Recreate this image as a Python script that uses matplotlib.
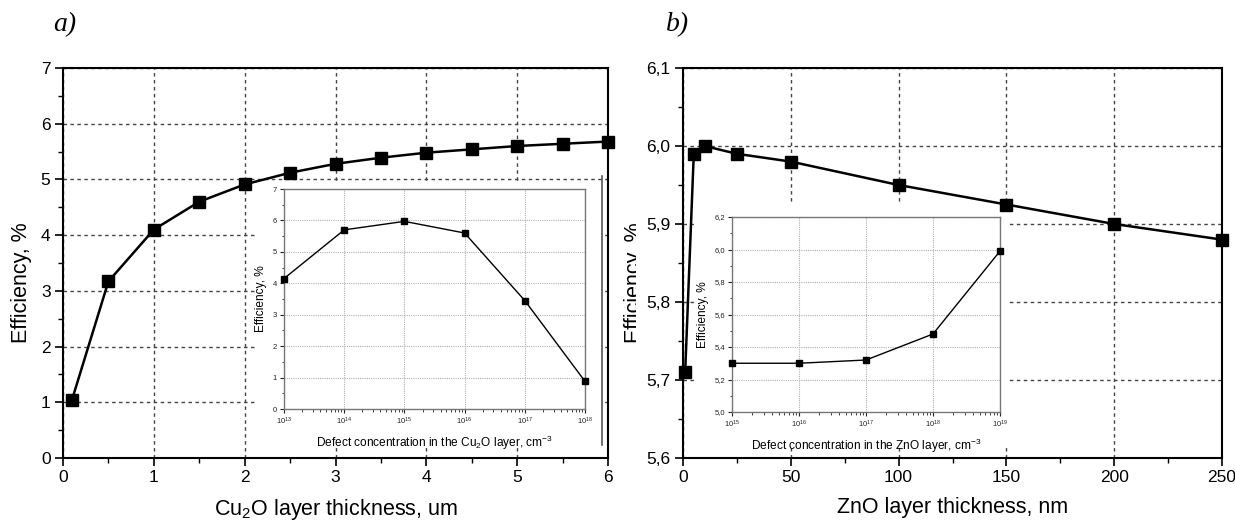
import matplotlib
matplotlib.use("Agg")
import matplotlib.pyplot as plt
from matplotlib.ticker import MultipleLocator, FuncFormatter, LogLocator, NullFormatter
from matplotlib.transforms import Bbox
from matplotlib.patches import Rectangle

plt.rcParams['font.family'] = ['Liberation Sans', 'DejaVu Sans']
plt.rcParams['mathtext.fontset'] = 'custom'
plt.rcParams['mathtext.rm'] = 'Liberation Sans'
plt.rcParams['mathtext.it'] = 'Liberation Sans:italic'

# ---------------- data ----------------
cu2o_thickness = [0.1, 0.5, 1.0, 1.5, 2.0, 2.5, 3.0, 3.5, 4.0, 4.5, 5.0, 5.5, 6.0]
cu2o_eff = [1.05, 3.17, 4.10, 4.60, 4.91, 5.12, 5.28, 5.39, 5.48, 5.54, 5.60, 5.64, 5.68]

cu2o_defect = [1e13, 1e14, 1e15, 1e16, 1e17, 1e18]
cu2o_defect_eff = [4.15, 5.70, 5.97, 5.60, 3.45, 0.88]

zno_thickness = [1, 5, 10, 25, 50, 100, 150, 200, 250]
zno_eff = [5.71, 5.99, 6.00, 5.99, 5.98, 5.95, 5.925, 5.90, 5.88]

zno_defect = [1e15, 1e16, 1e17, 1e18, 1e19]
zno_defect_eff = [5.30, 5.30, 5.32, 5.48, 5.99]

W, H = 1235, 527
fig = plt.figure(figsize=(W / 100, H / 100), dpi=100)


def px_rect(x0, y0, x1, y1):
    return [x0 / W, (H - y1) / H, (x1 - x0) / W, (y1 - y0) / H]


def white_box(ax, x0, y0, x1, y1):
    r = Rectangle((x0 / W, (H - y1) / H), (x1 - x0) / W, (y1 - y0) / H,
                  transform=fig.transFigure, facecolor='white', edgecolor='none',
                  zorder=1, clip_on=False)
    ax.add_patch(r)


comma = FuncFormatter(lambda v, p: ("%.1f" % v).replace('.', ','))
main_grid = dict(color='#444444', linestyle=(0, (2.5, 2.5)), linewidth=1.0)
inset_grid = dict(color='#b0b0b0', linestyle=(0, (1, 1)), linewidth=0.8)


def style_main(ax):
    for s in ax.spines.values():
        s.set_linewidth(1.5)
        s.set_zorder(4)
    ax.tick_params(which='major', direction='out', length=6, width=1.2, labelsize=12.5, pad=3)
    ax.tick_params(which='minor', direction='out', length=3.5, width=1.0)
    ax.grid(True, which='major', **main_grid)
    ax.set_axisbelow(True)


def style_inset(ax):
    for s in ax.spines.values():
        s.set_linewidth(1.0)
        s.set_color('#777777')
    ax.tick_params(which='major', direction='out', length=3, width=0.8, labelsize=5.5, pad=2, colors='#222222')
    ax.tick_params(which='minor', direction='out', length=1.8, width=0.6, colors='#222222')
    ax.grid(True, which='major', **inset_grid)
    ax.set_axisbelow(True)


# ---------------- panel a ----------------
axa = fig.add_axes(px_rect(63, 68, 608, 458))
style_main(axa)
axa.plot(cu2o_thickness, cu2o_eff, color='black', linewidth=1.8, marker='s',
         markersize=8.5, zorder=3, clip_on=False)
axa.set_xlim(0, 6)
axa.set_ylim(0, 7)
axa.xaxis.set_major_locator(MultipleLocator(1))
axa.xaxis.set_minor_locator(MultipleLocator(0.5))
axa.yaxis.set_major_locator(MultipleLocator(1))
axa.yaxis.set_minor_locator(MultipleLocator(0.5))
axa.set_xlabel('Cu$_2$O layer thickness, um', fontsize=15.5)
axa.xaxis.set_label_coords(0.5, -0.1)
axa.set_ylabel('Efficiency, %', fontsize=15.5)
axa.yaxis.set_label_coords(-0.057, 0.45)
white_box(axa, 255, 181, 602, 447)
fig.lines.append(plt.Line2D([602 / W, 602 / W], [(H - 445) / H, (H - 176) / H],
                            transform=fig.transFigure, color='#555555', linewidth=1.2, zorder=1.6))

axi = fig.add_axes(px_rect(284, 189, 585, 409))
axi.set_zorder(2)
style_inset(axi)
axi.plot(cu2o_defect, cu2o_defect_eff, color='black', linewidth=1.0, marker='s',
         markersize=4, zorder=3, clip_on=False)
axi.set_xscale('log')
axi.set_xlim(1e13, 1e18)
axi.set_ylim(0, 7)
axi.xaxis.set_major_locator(LogLocator(base=10, numticks=10))
axi.xaxis.set_minor_locator(LogLocator(base=10, subs=range(2, 10), numticks=20))
axi.xaxis.set_minor_formatter(NullFormatter())
axi.yaxis.set_major_locator(MultipleLocator(1))
axi.yaxis.set_minor_locator(MultipleLocator(0.5))
axi.set_xlabel('Defect concentration in the Cu$_2$O layer, cm$^{-3}$', fontsize=8.6, labelpad=5)
axi.set_ylabel('Efficiency, %', fontsize=8.6, labelpad=4)

# ---------------- panel b ----------------
axb = fig.add_axes(px_rect(683, 68, 1222, 458))
style_main(axb)
axb.plot(zno_thickness, zno_eff, color='black', linewidth=1.8, marker='s',
         markersize=8.5, zorder=3, clip_on=False)
axb.set_xlim(0, 250)
axb.set_ylim(5.6, 6.1)
axb.xaxis.set_major_locator(MultipleLocator(50))
axb.xaxis.set_minor_locator(MultipleLocator(25))
axb.yaxis.set_major_locator(MultipleLocator(0.1))
axb.yaxis.set_minor_locator(MultipleLocator(0.05))
axb.yaxis.set_major_formatter(comma)
axb.set_xlabel('ZnO layer thickness, nm', fontsize=15.5)
axb.xaxis.set_label_coords(0.5, -0.1)
ylb = axb.set_ylabel('Efficiency, %', fontsize=15.5)
axb.yaxis.set_label_coords(-0.07, 0.45)
ylb.set_clip_on(True)
ylb.set_clip_box(Bbox.from_extents(0, 0, 636, H))
white_box(axb, 697, 203, 1008, 448)

axj = fig.add_axes(px_rect(732, 217, 1000, 412))
axj.set_zorder(2)
style_inset(axj)
axj.plot(zno_defect, zno_defect_eff, color='black', linewidth=1.0, marker='s',
         markersize=4, zorder=3, clip_on=False)
axj.set_xscale('log')
axj.set_xlim(1e15, 1e19)
axj.set_ylim(5.0, 6.2)
axj.xaxis.set_major_locator(LogLocator(base=10, numticks=10))
axj.xaxis.set_minor_locator(LogLocator(base=10, subs=range(2, 10), numticks=20))
axj.xaxis.set_minor_formatter(NullFormatter())
axj.yaxis.set_major_locator(MultipleLocator(0.2))
axj.yaxis.set_minor_locator(MultipleLocator(0.1))
axj.yaxis.set_major_formatter(comma)
axj.set_xlabel('Defect concentration in the ZnO layer, cm$^{-3}$', fontsize=8.6, labelpad=5)
axj.set_ylabel('Efficiency, %', fontsize=8.6, labelpad=4)

# panel letters
fig.text(65 / W, 1 - 25 / H, 'a)', fontsize=20, family=['Liberation Serif', 'DejaVu Serif'],
         style='italic', ha='center', va='center')
fig.text(678 / W, 1 - 25 / H, 'b)', fontsize=20, family=['Liberation Serif', 'DejaVu Serif'],
         style='italic', ha='center', va='center')

fig.savefig('out.png', dpi=100)
